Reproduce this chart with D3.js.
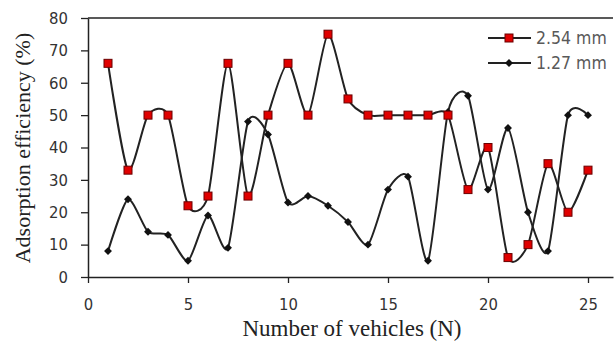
<!DOCTYPE html>
<html>
<head>
<meta charset="utf-8">
<script src="https://cdn.jsdelivr.net/npm/d3@7"></script>
<style>
  html, body { margin: 0; padding: 0; background: #fff; }
  svg { display: block; }
</style>
</head>
<body>
<svg width="615" height="345"></svg>
<script>
// data
var vehicles = d3.range(1, 26);
var eff254 = [66, 33, 50, 50, 22, 25, 66, 25, 50, 66, 50, 75, 55, 50, 50, 50, 50, 50, 27, 40, 6, 10, 35, 20, 33];
var eff127 = [8, 24, 14, 13, 5, 19, 9, 48, 44, 23, 25, 22, 17, 10, 27, 31, 5, 51, 56, 27, 46, 20, 8, 50, 50];
var xTicks = [0, 5, 10, 15, 20, 25];
var yTicks = [0, 10, 20, 30, 40, 50, 60, 70, 80];
var seriesNames = ["2.54 mm", "1.27 mm"];

var svg = d3.select("svg");
var plotLeft = 88, plotRight = 613, plotTop = 18, plotBottom = 277;

var x = d3.scaleLinear().domain([0, 26.25]).range([plotLeft, plotRight]);
var y = d3.scaleLinear().domain([0, 80]).range([plotBottom, plotTop]);

var tickFont = "'DejaVu Sans Condensed', 'Liberation Sans', sans-serif";
var serif = "'Liberation Serif', 'Times New Roman', serif";

// frame top line
svg.append("line")
  .attr("x1", plotLeft).attr("x2", plotRight).attr("y1", plotTop).attr("y2", plotTop)
  .attr("stroke", "#222").attr("stroke-width", 1.5);

var xAxis = svg.append("g")
  .attr("transform", "translate(0," + plotBottom + ")")
  .call(d3.axisBottom(x).tickValues(xTicks).tickSize(6).tickPadding(15).tickSizeOuter(0));
xAxis.select(".domain").attr("stroke", "#222").attr("stroke-width", 1.5);
xAxis.selectAll(".tick line").attr("stroke", "#222").attr("stroke-width", 1.3);
xAxis.selectAll(".tick text")
  .attr("font-family", tickFont).attr("font-size", 16.5).attr("fill", "#333");

var yAxis = svg.append("g")
  .attr("transform", "translate(" + plotLeft + ",0)")
  .call(d3.axisLeft(y).tickValues(yTicks).tickSize(7).tickPadding(13).tickSizeOuter(0));
yAxis.select(".domain").attr("stroke", "#222").attr("stroke-width", 1.5);
yAxis.selectAll(".tick line").attr("stroke", "#222").attr("stroke-width", 1.3);
yAxis.selectAll(".tick text")
  .attr("font-family", tickFont).attr("font-size", 16.5).attr("fill", "#333");

// axis titles
svg.append("text")
  .attr("x", 352).attr("y", 336)
  .attr("text-anchor", "middle")
  .attr("font-family", serif).attr("font-size", 23).attr("fill", "#222")
  .text("Number of vehicles (N)");

svg.append("text")
  .attr("transform", "translate(30,148) rotate(-90)")
  .attr("text-anchor", "middle")
  .attr("font-family", serif).attr("font-size", 22).attr("fill", "#222")
  .text("Adsorption efficiency (%)");

var line = d3.line()
  .x(function(d, i) { return x(vehicles[i]); })
  .y(function(d) { return y(d); })
  .curve(d3.curveCardinal.tension(0.3));

var lineColor = "#222";

svg.append("path").datum(eff254)
  .attr("d", line).attr("fill", "none")
  .attr("stroke", lineColor).attr("stroke-width", 2);
svg.append("path").datum(eff127)
  .attr("d", line).attr("fill", "none")
  .attr("stroke", lineColor).attr("stroke-width", 2);

var diamond = d3.symbol().type(d3.symbolDiamond2).size(40);

svg.append("g").selectAll("path")
  .data(eff127).enter().append("path")
  .attr("d", diamond)
  .attr("transform", function(d, i) { return "translate(" + x(vehicles[i]) + "," + y(d) + ")"; })
  .attr("fill", "#111");

svg.append("g").selectAll("rect")
  .data(eff254).enter().append("rect")
  .attr("x", function(d, i) { return x(vehicles[i]) - 4; })
  .attr("y", function(d) { return y(d) - 4; })
  .attr("width", 8).attr("height", 8)
  .attr("fill", "#e00000").attr("stroke", "#6a0000").attr("stroke-width", 1);

// legend
var legend = svg.append("g");
[0, 1].forEach(function(k) {
  var ly = 38 + k * 25;
  legend.append("line")
    .attr("x1", 488).attr("x2", 531).attr("y1", ly).attr("y2", ly)
    .attr("stroke", lineColor).attr("stroke-width", 2);
  if (k === 0) {
    legend.append("rect")
      .attr("x", 505).attr("y", ly - 4).attr("width", 8).attr("height", 8)
      .attr("fill", "#e00000").attr("stroke", "#6a0000");
  } else {
    legend.append("path").attr("d", diamond)
      .attr("transform", "translate(509," + ly + ")").attr("fill", "#111");
  }
  legend.append("text")
    .attr("x", 536).attr("y", ly).attr("dy", "0.35em")
    .attr("font-family", tickFont).attr("font-size", 17.5).attr("fill", "#595959")
    .text(seriesNames[k]);
});
</script>
</body>
</html>
